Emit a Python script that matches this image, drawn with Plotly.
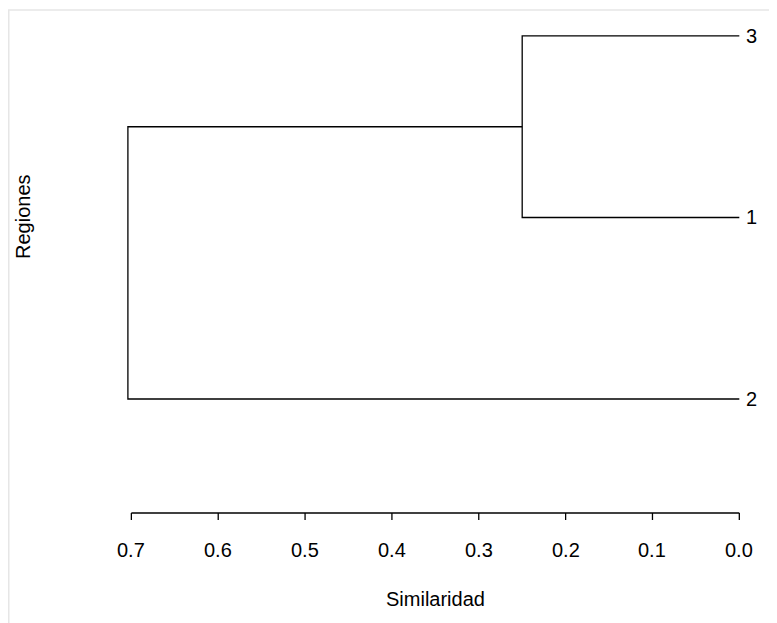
import plotly.graph_objects as go

# Data
leaf_labels = ["2", "1", "3"]          # bottom to top order
leaf_heights = [0.0, 0.0, 0.0]
merge_pairs = [(2, 1), ("c0", 0)]      # indices into leaves / clusters
merge_heights = [0.25, 0.704]
x_ticks = [0.7, 0.6, 0.5, 0.4, 0.3, 0.2, 0.1, 0.0]
x_tick_labels = ["0.7", "0.6", "0.5", "0.4", "0.3", "0.2", "0.1", "0.0"]

FONT = "Liberation Sans, Arial, sans-serif"
FS = 20
LINE = dict(color="black", width=1.3)

# build dendrogram segments
nodes = {}
for i, lab in enumerate(leaf_labels):
    nodes[i] = (leaf_heights[i], i + 1)   # (height, y position)

xs, ys = [], []
for k, (a, b) in enumerate(merge_pairs):
    ha, ya = nodes[a]
    hb, yb = nodes[b]
    h = merge_heights[k]
    xs += [ha, h, h, hb, None]
    ys += [ya, ya, yb, yb, None]
    nodes["c%d" % k] = (h, (ya + yb) / 2)

fig = go.Figure()
fig.add_trace(go.Scatter(x=xs, y=ys, mode="lines", line=LINE,
                         hoverinfo="skip", showlegend=False))

W, H = 769, 615
L, R, T, B = 106, 29, 12, 110
pw, ph = W - L - R, H - T - B
base = H - B  # pixel y of plot bottom (figure coords)

annotations = []
for i, lab in enumerate(leaf_labels):
    annotations.append(dict(x=0, y=i + 1, xref="x", yref="y", text=lab,
                            showarrow=False, xanchor="left", xshift=5,
                            font=dict(family=FONT, size=FS, color="black")))
for xv, tl in zip(x_ticks, x_tick_labels):
    annotations.append(dict(x=xv, y=-37 / ph, xref="x", yref="paper",
                            text=tl, showarrow=False, xanchor="center", yanchor="middle",
                            font=dict(family=FONT, size=FS, color="black")))
annotations.append(dict(x=(x_ticks[0] + x_ticks[-1]) / 2, y=-86 / ph,
                        xref="x", yref="paper", text="Similaridad", showarrow=False,
                        xanchor="center", yanchor="middle",
                        font=dict(family=FONT, size=FS, color="black")))
annotations.append(dict(x=(15 - L) / pw, y=(base - 209) / ph, xref="paper", yref="paper",
                        text="Regiones", textangle=-90, showarrow=False,
                        xanchor="center", yanchor="middle",
                        font=dict(family=FONT, size=FS, color="black")))

shapes = [
    # light outer frame
    dict(type="rect", xref="paper", yref="paper",
         x0=(0.75 - L) / pw, x1=1.3, y0=-0.4, y1=(base - 2) / ph,
         line=dict(color="#e6e6e6", width=1.5), layer="below"),
    # axis line spanning ticks only
    dict(type="line", xref="x", yref="paper", x0=x_ticks[0], x1=x_ticks[-1],
         y0=0, y1=0, line=LINE),
]
for xv in x_ticks:
    shapes.append(dict(type="line", xref="x", yref="paper", x0=xv, x1=xv,
                       y0=0, y1=-7 / ph, line=LINE))

fig.update_layout(
    width=W, height=H,
    margin=dict(l=L, r=R, t=T, b=B),
    paper_bgcolor="white", plot_bgcolor="white",
    xaxis=dict(range=[0.72, -0.01], showgrid=False, zeroline=False,
               showline=False, showticklabels=False, ticks=""),
    yaxis=dict(range=[0.372, 3.088], showgrid=False, zeroline=False,
               showline=False, showticklabels=False, ticks=""),
    annotations=annotations,
    shapes=shapes,
    showlegend=False,
)

fig.write_html("out.html")
